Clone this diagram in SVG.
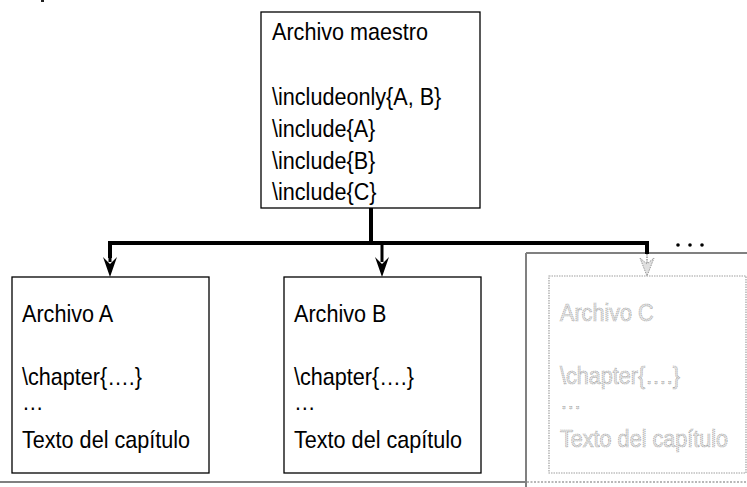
<svg xmlns="http://www.w3.org/2000/svg" width="747" height="487" viewBox="0 0 747 487">
<style>
.box{fill:#fff;stroke:#000;stroke-width:1.3}
.t{font-family:"Liberation Sans",Arial,sans-serif;font-size:24px;fill:#000}
.tc{font-family:"Liberation Sans",Arial,sans-serif;font-size:24px;fill:#e6e6e6;stroke:#9a9a9a;stroke-width:0.7;stroke-dasharray:1.2 0.8}
.frame{stroke:#808080;stroke-width:2;fill:none}
</style>
<rect x="41" y="0" width="3" height="2" fill="#222"/>
<g id="frame">
<line class="frame" x1="0" y1="482" x2="526" y2="482"/>
<line class="frame" x1="526" y1="253" x2="526" y2="487"/>
<line class="frame" x1="526" y1="253" x2="747" y2="253"/>
<line x1="527" y1="482" x2="747" y2="482" stroke="#a0a0a0" stroke-width="1.5" stroke-dasharray="2 1.5"/>
</g>
<g id="connectors">
<line x1="371" y1="208" x2="371" y2="243" stroke="#000" stroke-width="4"/>
<polyline points="110,258 110,243 647,243 647,254" fill="none" stroke="#000" stroke-width="4" stroke-linejoin="miter"/>
<line x1="110" y1="243" x2="110" y2="262" stroke="#000" stroke-width="3"/>
<line x1="382" y1="243" x2="382" y2="262" stroke="#000" stroke-width="3"/>
<path d="M103,257 L110,277 L117,257 L110,264 Z" fill="#000"/>
<path d="M375,257 L382,277 L389,257 L382,264 Z" fill="#000"/>
<line x1="647" y1="254" x2="647" y2="270" stroke="#999" stroke-width="1.5" stroke-dasharray="1.5 1"/>
<path d="M640,258 L647,276 L654,258 L647,264 Z" fill="#e0e0e0" stroke="#999" stroke-width="1" stroke-dasharray="1.5 1"/>
</g>
<g id="dots" fill="#000">
<circle cx="678" cy="245" r="1.8"/>
<circle cx="690" cy="245" r="1.8"/>
<circle cx="702" cy="245" r="1.8"/>
</g>
<g id="master">
<rect class="box" x="261" y="12" width="219" height="196"/>
<g transform="translate(272,0) scale(0.9,1)">
<text class="t" x="0" y="40">Archivo maestro</text>
<text class="t" x="0" y="105">\includeonly{A, B}</text>
<text class="t" x="0" y="137">\include{A}</text>
<text class="t" x="0" y="169">\include{B}</text>
<text class="t" x="0" y="200">\include{C}</text>
</g>
</g>
<g id="fileA">
<rect class="box" x="12" y="277" width="197" height="196"/>
<g transform="translate(22,0) scale(0.9,1)">
<text class="t" x="0" y="322">Archivo A</text>
<text class="t" x="0" y="385">\chapter{….}</text>
<text class="t" x="0" y="410">…</text>
<text class="t" x="0" y="448">Texto del capítulo</text>
</g>
</g>
<g id="fileB">
<rect class="box" x="284" y="277" width="197" height="196"/>
<g transform="translate(294,0) scale(0.9,1)">
<text class="t" x="0" y="322">Archivo B</text>
<text class="t" x="0" y="385">\chapter{….}</text>
<text class="t" x="0" y="410">…</text>
<text class="t" x="0" y="448">Texto del capítulo</text>
</g>
</g>
<g id="fileC">
<rect x="549" y="276" width="197" height="197" fill="none" stroke="#a0a0a0" stroke-width="1.2" stroke-dasharray="1.5 1"/>
<g transform="translate(560,0) scale(0.9,1)">
<text class="tc" x="0" y="321">Archivo C</text>
<text class="tc" x="0" y="384">\chapter{….}</text>
<text class="tc" x="0" y="409">…</text>
<text class="tc" x="0" y="447">Texto del capítulo</text>
</g>
</g>
</svg>
